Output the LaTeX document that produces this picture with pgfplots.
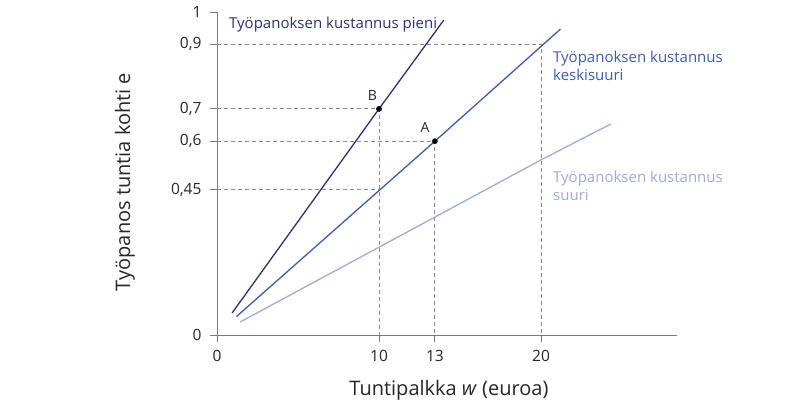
\documentclass[border=0pt]{standalone}
\usepackage{pgfplots}
\pgfplotsset{compat=1.18}
\usepackage{fontspec}
\setmainfont{Open Sans}
\definecolor{pieni}{HTML}{2E3175}
\definecolor{keski}{HTML}{3F5BB0}
\definecolor{suuri}{HTML}{9FABDC}
\definecolor{axisgray}{HTML}{7A7A7A}
\definecolor{dashgray}{HTML}{8C8C8C}
\begin{document}
\begin{tikzpicture}
\path[use as bounding box] (-217pt,-77pt) rectangle (592pt,335pt);
\begin{axis}[
  x=16.2pt, y=323pt, anchor=origin, at={(0pt,0pt)},
  xmin=0, xmax=28.4, ymin=0, ymax=1,
  axis lines*=left, axis line style={axisgray, line width=0.8pt},
  tick align=outside, major tick length=7pt,
  tick style={axisgray, line width=0.8pt},
  xtick={0,10,13.45,20}, xticklabels={0,10,13,20},
  ytick={0,0.45,0.6,0.7,0.9,1},
  yticklabels={0,{0,45},{0,6},{0,7},{0,9},1},
  /pgf/number format/assume math mode=true,
  ticklabel style={font=\fontsize{15.5}{18}\selectfont, text=black!85},
  xticklabel shift=5pt, yticklabel shift=5pt,
  clip=false,
]
% reference lines
\addplot[dashgray, line width=0.8pt, dash pattern=on 4pt off 3pt] coordinates {(0,0.9) (20,0.9) (20,0)};
\addplot[dashgray, line width=0.8pt, dash pattern=on 4pt off 3pt] coordinates {(0,0.7) (10,0.7) (10,0)};
\addplot[dashgray, line width=0.8pt, dash pattern=on 4pt off 3pt] coordinates {(0,0.6) (13.45,0.6) (13.45,0)};
\addplot[dashgray, line width=0.8pt, dash pattern=on 4pt off 3pt] coordinates {(0,0.45) (10,0.45)};
% cost lines
\addplot[pieni, line width=1.3pt] coordinates {(0.93,0.068) (10,0.7) (14.0,0.975)};
\addplot[keski, line width=1.3pt] coordinates {(1.2,0.057) (13.45,0.6) (21.2,0.947)};
\addplot[suuri, line width=1.3pt] coordinates {(1.42,0.04) (20,0.542) (24.3,0.653)};
% points
\addplot[only marks, mark=*, mark size=2.6pt, black] coordinates {(10,0.7) (13.45,0.6)};
\node[font=\fontsize{14}{16}\selectfont, text=black!85] at (axis cs:9.6,0.743) {B};
\node[font=\fontsize{14}{16}\selectfont, text=black!85] at (axis cs:12.85,0.641) {A};
% labels
\node[anchor=west, inner sep=0pt, text=pieni, font=\fontsize{15}{18}\selectfont] at (axis cs:0.74,0.96) {Työpanoksen kustannus pieni};
\node[anchor=west, inner sep=0pt, align=left, text=keski, font=\fontsize{15}{18}\selectfont] at (axis cs:20.74,0.833) {Työpanoksen kustannus\\keskisuuri};
\node[anchor=west, inner sep=0pt, align=left, text=suuri, font=\fontsize{15}{18}\selectfont] at (axis cs:20.74,0.461) {Työpanoksen kustannus\\suuri};
\end{axis}
\node[rotate=90, font=\fontsize{20}{24}\selectfont, text=black!85] at (-92pt,153pt) {Työpanos tuntia kohti e};
\node[font=\fontsize{20}{24}\selectfont, text=black!85] at (232pt,-55pt) {Tuntipalkka \textit{w} (euroa)};
\end{tikzpicture}
\end{document}
